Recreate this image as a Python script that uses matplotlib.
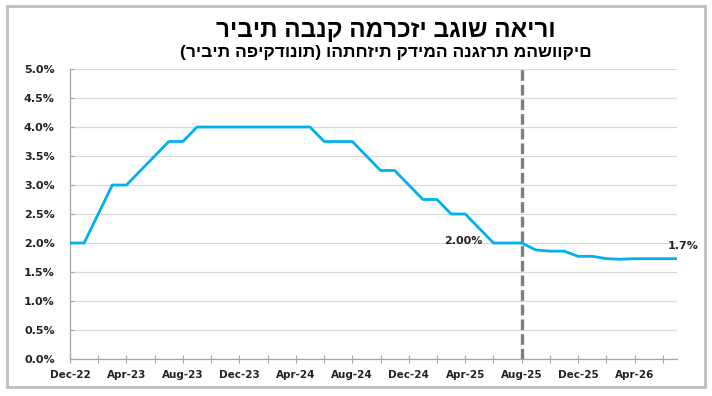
import numpy as np
import pandas as pd
import matplotlib
matplotlib.use("Agg")
import matplotlib.pyplot as plt
from matplotlib.patches import Rectangle

# monthly ECB deposit rate (actual + market-implied path), Dec-22 .. Jul-26
months = pd.date_range("2022-12-01", periods=44, freq="MS")
month_labels = [m.strftime("%b-%y") for m in months]
rates = [2.00,
         2.00, 2.50, 3.00, 3.00, 3.25, 3.50, 3.75, 3.75, 4.00, 4.00, 4.00, 4.00,
         4.00, 4.00, 4.00, 4.00, 4.00, 3.75, 3.75, 3.75, 3.50, 3.25, 3.25, 3.00,
         2.75, 2.75, 2.50, 2.50, 2.25, 2.00, 2.00, 2.00, 1.88, 1.86, 1.86, 1.77,
         1.77, 1.73, 1.72, 1.73, 1.73, 1.73, 1.73]
cutoff_label = "Aug-25"
last_label = "1.7%"
cutoff_text = "2.00%"

title = "ריבית הבנק המרכזי בגוש האירו"
subtitle = "(ריבית הפיקדונות) והתחזית קדימה הנגזרת מהשווקים"

x = np.arange(len(rates))
cut = month_labels.index(cutoff_label)

fig = plt.figure(figsize=(7.12, 3.96), dpi=100)
ax = fig.add_axes([70 / 712, 1 - 359 / 396, (677 - 70) / 712, (359 - 69) / 396])

# outer frame of the chart
fig.patches.append(Rectangle((7 / 712, 1 - 387 / 396), 698 / 712, 381 / 396,
                             transform=fig.transFigure, fill=False,
                             edgecolor="#bfbfbf", linewidth=2))

ax.plot(x, rates, color="#00b0f0", linewidth=2.0, zorder=3)
ax.axvline(cut, color="#7f7f7f", linewidth=2.4, linestyle=(0, (3.2, 1.2)), zorder=4)

ax.text(cut - 2.8, rates[cut] + 0.03, cutoff_text, ha="right", va="center",
        fontsize=8, fontweight="bold", color="#222222")
ax.text(x[-1] + 0.45, rates[-1] + 0.22, last_label, ha="center", va="center",
        fontsize=8, fontweight="bold", color="#222222", clip_on=False)

ax.set_xlim(0, x[-1])
ax.set_ylim(0, 5)
ax.set_yticks(np.arange(0, 5.01, 0.5))
ax.set_yticklabels([f"{v:.1f}%" for v in np.arange(0, 5.01, 0.5)])
ax.set_xticks(x[::4])
ax.set_xticklabels(month_labels[::4])
ax.set_xticks(x[::2], minor=True)

ax.grid(axis="y", color="#d9d9d9", linewidth=0.9)
ax.set_axisbelow(True)
for side in ["top", "right"]:
    ax.spines[side].set_visible(False)
for side in ["left", "bottom"]:
    ax.spines[side].set_color("#a6a6a6")
    ax.spines[side].set_linewidth(0.9)

ax.tick_params(axis="x", which="both", direction="inout", length=6, width=0.8,
               color="#a6a6a6", pad=5)
ax.tick_params(axis="y", direction="in", length=3, width=0.8, color="#a6a6a6", pad=11)
for lab in ax.get_xticklabels():
    lab.set_fontsize(7.5)
    lab.set_fontweight("bold")
    lab.set_color("#222222")
for lab in ax.get_yticklabels():
    lab.set_fontsize(8)
    lab.set_fontweight("bold")
    lab.set_color("#222222")

fig.text(386 / 712, 1 - 30 / 396, title, ha="center", va="center",
         fontsize=17.5, fontweight="bold", family=["Liberation Sans", "DejaVu Sans"])
fig.text(386 / 712, 1 - 53 / 396, subtitle, ha="center", va="center",
         fontsize=12.5, fontweight="bold", family=["Liberation Sans", "DejaVu Sans"])

fig.savefig("out.png", dpi=100)
plt.close(fig)
